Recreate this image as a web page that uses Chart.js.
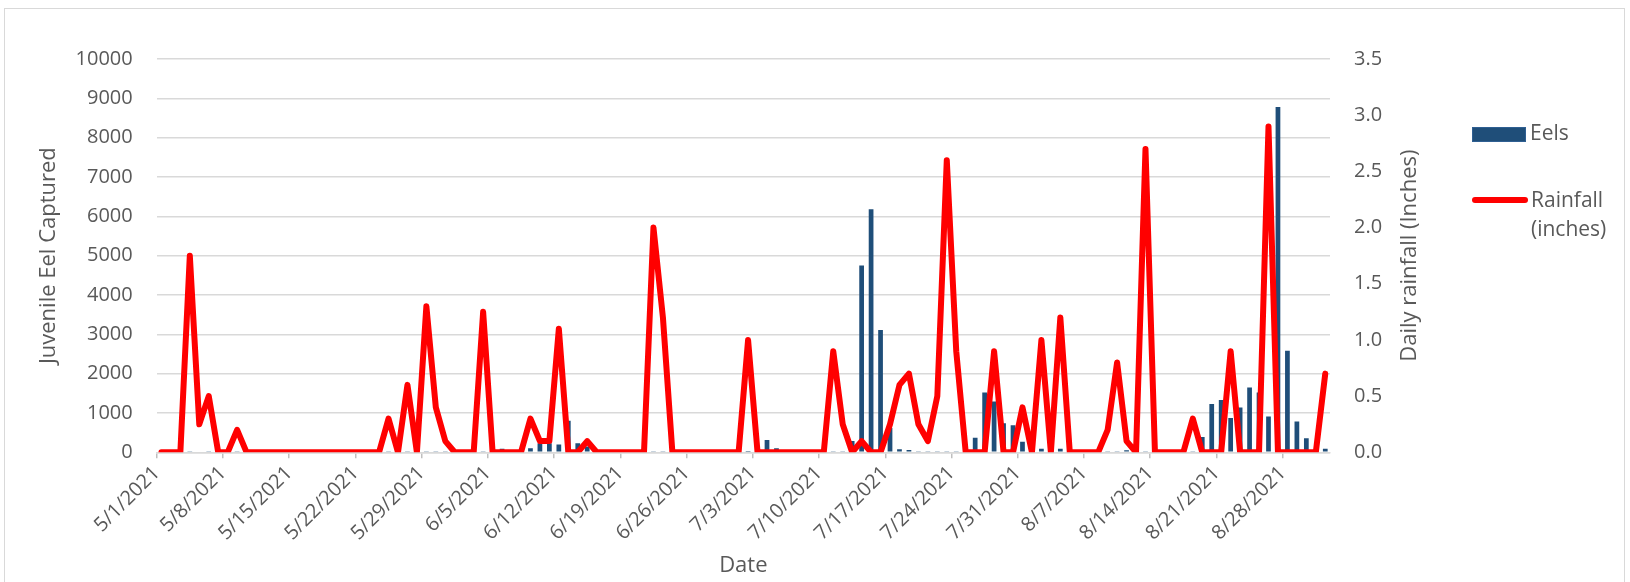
<!DOCTYPE html>
<html>
<head>
<meta charset="utf-8">
<title>Juvenile eel captures and daily rainfall, 2021</title>
<script src="https://cdn.jsdelivr.net/npm/chart.js@4.4.1/dist/chart.umd.min.js"></script>
<style>
  html, body { margin: 0; padding: 0; background: #ffffff; }
  #wrap { position: relative; width: 1630px; height: 582px; overflow: hidden;
          font-family: "Open Sans", Lato, sans-serif; color: #595959; }
  #frame { position: absolute; left: 4px; top: 8px; width: 1621px; height: 620px;
           border: 1px solid #d9d9d9; box-sizing: border-box; }
  #c { position: absolute; left: 0; top: 0; }
  .lg-text { position: absolute; font-size: 21px; line-height: 29px; white-space: nowrap; }
  .lg-bar { position: absolute; left: 1472px; top: 127px; width: 54px; height: 15px;
            background: #1f4e79; border: 1px solid #2f5f92; box-sizing: border-box; }
  .lg-line { position: absolute; left: 1472px; top: 197px; width: 56px; height: 6px;
             background: #ff0000; border-radius: 3px; }
</style>
</head>
<body>
<div id="wrap">
  <div id="frame"></div>
  <canvas id="c" width="1630" height="582"></canvas>
  <div class="lg-bar"></div>
  <div class="lg-text" style="left:1530px; top:118px;">Eels</div>
  <div class="lg-line"></div>
  <div class="lg-text" style="left:1531px; top:185px;">Rainfall<br>(inches)</div>
</div>
<script>
// Daily series, 5/1/2021 through 9/1/2021 (one row per week)
const startDate = [2021, 4, 1];
const dayCount = 124;

const eels = [
  0, 0, 0, 25, 0, 25, 0,
  0, 25, 0, 0, 0, 0, 0,
  0, 0, 0, 0, 0, 0, 0,
  0, 0, 0, 25, 25, 25, 25,
  25, 25, 25, 0, 0, 0, 25,
  0, 90, 50, 0, 100, 230, 230,
  200, 800, 230, 150, 0, 0, 0,
  0, 0, 0, 25, 25, 0, 0,
  0, 0, 0, 0, 0, 0, 30,
  0, 310, 100, 0, 0, 0, 0,
  0, 25, 25, 290, 4750, 6180, 3110,
  620, 80, 60, 25, 25, 25, 25,
  25, 0, 370, 1520, 1290, 740, 690,
  270, 0, 90, 0, 90, 0, 0,
  0, 0, 25, 25, 50, 0, 25,
  0, 0, 0, 0, 25, 390, 1230,
  1330, 870, 1140, 1650, 1520, 910, 8780,
  2580, 780, 360, 0, 90
];

const rainfall = [
  0, 0, 0, 1.75, 0.25, 0.5, 0,
  0, 0.2, 0, 0, 0, 0, 0,
  0, 0, 0, 0, 0, 0, 0,
  0, 0, 0, 0.3, 0, 0.6, 0,
  1.3, 0.4, 0.1, 0, 0, 0, 1.25,
  0, 0, 0, 0, 0.3, 0.1, 0.1,
  1.1, 0, 0, 0.1, 0, 0, 0,
  0, 0, 0, 2.0, 1.2, 0, 0,
  0, 0, 0, 0, 0, 0, 1.0,
  0, 0, 0, 0, 0, 0, 0,
  0, 0.9, 0.25, 0, 0.1, 0, 0,
  0.25, 0.6, 0.7, 0.25, 0.1, 0.5, 2.6,
  0.9, 0, 0, 0, 0.9, 0, 0,
  0.4, 0, 1.0, 0, 1.2, 0, 0,
  0, 0, 0.2, 0.8, 0.1, 0, 2.7,
  0, 0, 0, 0, 0.3, 0, 0,
  0, 0.9, 0, 0, 0, 2.9, 0,
  0, 0, 0, 0, 0.7
];

// Weekly date labels on the x axis
const weekLabels = [
  '5/1/2021', '5/8/2021', '5/15/2021', '5/22/2021', '5/29/2021', '6/5/2021',
  '6/12/2021', '6/19/2021', '6/26/2021', '7/3/2021', '7/10/2021', '7/17/2021',
  '7/24/2021', '7/31/2021', '8/7/2021', '8/14/2021', '8/21/2021', '8/28/2021'
];

// Eel axis ticks and rainfall axis ticks
const eelTicks = { min: 0, max: 10000, step: 1000 };
const rainTicks = { min: 0, max: 3.5, step: 0.5 };

// One category per day
const days = [];
for (let i = 0; i < dayCount; i++) {
  const d = new Date(startDate[0], startDate[1], startDate[2] + i);
  days.push((d.getMonth() + 1) + '/' + d.getDate() + '/' + d.getFullYear());
}

const textColor = '#595959';
const gridColor = '#d9d9d9';
const fontFamily = '"Open Sans", Lato, sans-serif';
const tickFont = { family: fontFamily, size: 20 };
const titleFont = { family: fontFamily, size: 22 };
const rainTitle = 'Daily rainfall (Inches)';

// Right-hand axis title, written bottom-to-top like the left one
const rightTitlePlugin = {
  id: 'rightTitle',
  afterDraw(chart) {
    const s = chart.scales.yRain;
    const ctx = chart.ctx;
    ctx.save();
    ctx.font = titleFont.size + 'px ' + fontFamily;
    ctx.fillStyle = textColor;
    ctx.textAlign = 'center';
    ctx.textBaseline = 'middle';
    ctx.translate(s.right - 4 - titleFont.size * 0.6, (s.top + s.bottom) / 2);
    ctx.rotate(-Math.PI / 2);
    ctx.fillText(rainTitle, 0, 0);
    ctx.restore();
  }
};

new Chart(document.getElementById('c'), {
  data: {
    labels: days,
    datasets: [
      {
        type: 'line',
        label: 'Rainfall (inches)',
        data: rainfall,
        yAxisID: 'yRain',
        borderColor: '#ff0000',
        borderWidth: 6,
        borderJoinStyle: 'round',
        borderCapStyle: 'round',
        pointRadius: 0,
        tension: 0,
        order: 0
      },
      {
        type: 'bar',
        label: 'Eels',
        data: eels,
        yAxisID: 'yEels',
        backgroundColor: '#1f4e79',
        borderWidth: 0,
        barPercentage: 0.5,
        categoryPercentage: 1,
        order: 1
      }
    ]
  },
  plugins: [rightTitlePlugin],
  options: {
    responsive: false,
    animation: false,
    devicePixelRatio: 1,
    layout: { padding: { left: 30, right: 203, top: 59, bottom: 0 } },
    plugins: { legend: { display: false }, tooltip: { enabled: false } },
    scales: {
      x: {
        type: 'category',
        offset: true,
        grid: {
          offset: true,
          drawOnChartArea: false,
          drawTicks: true,
          tickLength: 6,
          lineWidth: 1.5,
          color: (ctx) => (ctx.index % 7 === 0 ? '#bfbfbf' : 'rgba(0,0,0,0)')
        },
        border: { display: true, color: gridColor, width: 1.5 },
        ticks: {
          autoSkip: false,
          maxRotation: 45,
          minRotation: 45,
          labelOffset: -4.7,
          padding: 3,
          color: textColor,
          font: tickFont,
          callback: (v, i) => (i % 7 === 0 ? weekLabels[i / 7] : '')
        },
        title: { display: true, text: 'Date', color: textColor, font: titleFont,
                 padding: { top: 0, bottom: 3 } },
        afterFit: (s) => { s.height = 129.7; }
      },
      yEels: {
        position: 'left',
        min: eelTicks.min,
        max: eelTicks.max,
        ticks: { stepSize: eelTicks.step, padding: 24, color: textColor, font: tickFont,
                 callback: (v) => String(v) },
        grid: { color: gridColor, lineWidth: 1.5, drawTicks: false },
        border: { display: false },
        title: { display: true, text: 'Juvenile Eel Captured', color: textColor,
                 font: titleFont, padding: { top: 6, bottom: 0 } },
        afterFit: (s) => { s.width = 126.7; }
      },
      yRain: {
        position: 'right',
        min: rainTicks.min,
        max: rainTicks.max,
        ticks: { stepSize: rainTicks.step, padding: 24, color: textColor, font: tickFont,
                 callback: (v) => Number(v).toFixed(1) },
        grid: { drawOnChartArea: false, drawTicks: false },
        border: { display: false },
        title: { display: false },
        afterFit: (s) => { s.width = 97; }
      }
    }
  }
});
</script>
</body>
</html>
